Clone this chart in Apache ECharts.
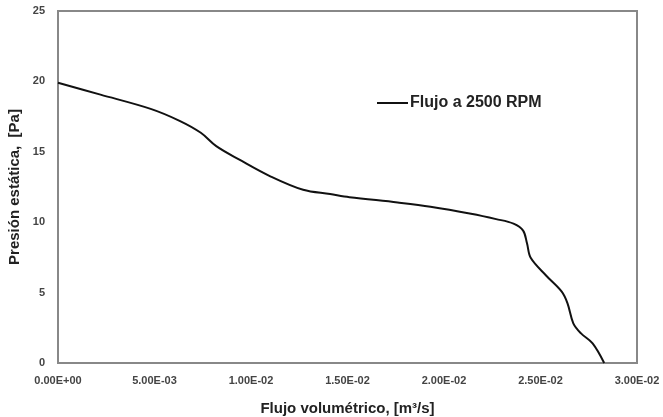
<!DOCTYPE html>
<html>
<head>
<meta charset="utf-8">
<script src="https://cdn.jsdelivr.net/npm/echarts@6/dist/echarts.min.js"></script>
<style>
  html, body { margin: 0; padding: 0; background: #fff; }
  #chart { width: 663px; height: 417px; }
</style>
</head>
<body>
<div id="chart"></div>
<script>
// caudal [m3/s] y presion estatica [Pa]
var flujo = [0, 0.0022, 0.0048, 0.0063, 0.0074, 0.0082, 0.0094, 0.0110, 0.0127, 0.0141, 0.0151,
	0.0176, 0.0193, 0.0214, 0.0227, 0.0236, 0.0241, 0.0243, 0.0245, 0.0253, 0.0261, 0.0264, 0.0267,
	0.0271, 0.0277, 0.0283];
var presion = [19.9, 19.06, 18.05, 17.2, 16.35, 15.4, 14.44, 13.26, 12.3, 12.0, 11.78,
	11.4, 11.1, 10.6, 10.22, 9.9, 9.4, 8.5, 7.45, 6.2, 5.07, 4.24, 2.82,
	2.1, 1.39, 0];
var serieNombre = 'Flujo a 2500 RPM';

var puntos = flujo.map(function (x, i) { return [x, presion[i]]; });

// formato tipo Excel: 5.00E-03
function fmtExp(v) {
	var s = v.toExponential(2).toUpperCase();
	var p = s.split('E');
	var sign = p[1].charAt(0);
	var num = p[1].slice(1);
	if (num.length < 2) num = '0' + num;
	return p[0] + 'E' + sign + num;
}

var font = 'Liberation Sans, Arial, sans-serif';
var myChart = echarts.init(document.getElementById('chart'));
var option = {
	backgroundColor: '#fff',
	animation: false,
	grid: {
		left: 58, top: 11, right: 26, bottom: 54,
		outerBoundsMode: 'none',
		show: true, borderColor: '#888', borderWidth: 2
	},
	legend: {
		data: [serieNombre],
		left: 372,
		top: 90,
		icon: 'rect',
		itemWidth: 31,
		itemHeight: 2,
		itemGap: 2,
		textStyle: { fontFamily: font, fontWeight: 'bold', fontSize: 16, color: '#222', padding: [0, 0, 0, -3] }
	},
	xAxis: {
		type: 'value',
		min: 0,
		max: 0.03,
		interval: 0.005,
		name: 'Flujo volumétrico, [m³/s]',
		nameLocation: 'middle',
		nameGap: 38,
		nameTextStyle: { fontFamily: font, fontWeight: 'bold', fontSize: 15, color: '#222' },
		axisLine: { lineStyle: { color: '#888', width: 2 } },
		axisTick: { show: false },
		splitLine: { show: false },
		axisLabel: {
			formatter: fmtExp,
			margin: 12,
			fontFamily: font, fontWeight: 'bold', fontSize: 11, color: '#444'
		}
	},
	yAxis: {
		type: 'value',
		min: 0,
		max: 25,
		interval: 5,
		name: 'Presión estática,  [Pa]',
		nameLocation: 'middle',
		nameGap: 30,
		nameTextStyle: { fontFamily: font, fontWeight: 'bold', fontSize: 15, color: '#222' },
		axisLine: { lineStyle: { color: '#888', width: 2 } },
		axisTick: { show: false },
		splitLine: { show: false },
		axisLabel: { margin: 13, fontFamily: font, fontWeight: 'bold', fontSize: 11, color: '#444' }
	},
	series: [{
		name: serieNombre,
		type: 'line',
		data: puntos,
		smooth: 0.35,
		showSymbol: false,
		lineStyle: { color: '#111', width: 2 },
		itemStyle: { color: '#111' }
	}]
};
myChart.setOption(option);
</script>
</body>
</html>
